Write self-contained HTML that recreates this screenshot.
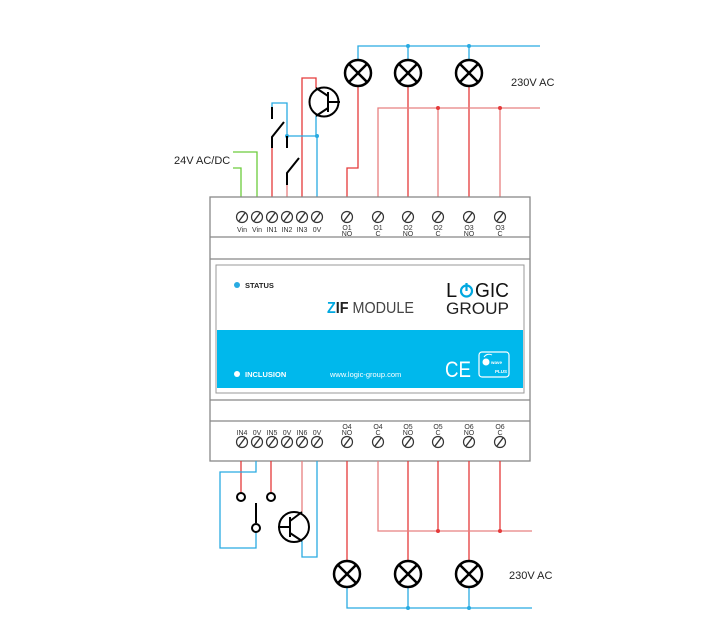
<!DOCTYPE html>
<html><head><meta charset="utf-8"><style>
html,body{margin:0;padding:0;background:#fff;}
svg{display:block;font-family:"Liberation Sans",sans-serif;}
</style></head><body>
<svg width="702" height="625" viewBox="0 0 702 625" xmlns="http://www.w3.org/2000/svg">
<defs>
<g id="lamp"><circle r="13" fill="#fff" stroke="#000" stroke-width="2.5"/><path d="M-9,-9L9,9M9,-9L-9,9" stroke="#000" stroke-width="2.5"/></g>
<g id="term"><circle r="5.5" fill="#fff" stroke="#333" stroke-width="1.2"/><path d="M-3,4L3,-4" stroke="#333" stroke-width="1.4"/></g>
</defs>
<g fill="none" stroke-width="1.3">
<path d="M358,60V46H540" stroke="#29abe2"/>
<path d="M408,46V60M469,46V60" stroke="#29abe2"/>
<path d="M358,86V168H347V197" stroke="#e53a3a"/>
<path d="M408,86V197M469,86V197" stroke="#e53a3a"/>
<path d="M378,197V108H540M438,108V197M500,108V197" stroke="#e88080"/>
<path d="M302,197V78H316V88" stroke="#e53a3a"/>
<path d="M316,116V136H287M317,136V197" stroke="#29abe2"/>
<path d="M287,136V103H272V108" stroke="#29abe2"/>
<path d="M272,148V197" stroke="#e53a3a"/>
<path d="M287,185V197" stroke="#e88080"/>
<path d="M233,152H257V197M233,168H241V197" stroke="#6ccc3c"/>
</g>
<g fill="#29abe2"><circle cx="408" cy="46" r="2"/><circle cx="469" cy="46" r="2"/><circle cx="287" cy="136" r="2"/><circle cx="317" cy="136" r="2"/></g>
<g fill="#e53a3a"><circle cx="438" cy="108" r="2"/><circle cx="500" cy="108" r="2"/></g>
<g stroke="#000" stroke-width="2" fill="none">
<path d="M272,107V119M272,148V137L284,122"/>
<path d="M287,136V148M287,185V173L299,158"/>
</g>
<g stroke="#000" stroke-width="2" fill="none">
<circle cx="324" cy="102" r="14.5" fill="#fff"/>
<path d="M328,92V112M328,102H340M328,96L316,88M328,108L316,116"/>
</g>
<use href="#lamp" x="358" y="73"/><use href="#lamp" x="408" y="73"/><use href="#lamp" x="469" y="73"/>
<text x="511" y="86" font-size="11" fill="#222">230V AC</text>
<text x="174" y="164" font-size="11" fill="#222">24V AC/DC</text>
<rect x="210" y="197" width="320" height="264" fill="#fff" stroke="#888" stroke-width="1.3"/>
<path d="M210,237H530M210,259H530M210,400H530M210,421H530" stroke="#888" stroke-width="1.2"/>
<rect x="216" y="265" width="308" height="128" fill="#fff" stroke="#999" stroke-width="1"/>
<rect x="217" y="330" width="306" height="58" fill="#00b8ec"/>
<circle cx="237" cy="285" r="3" fill="#29abe2"/>
<text x="245" y="288" font-size="7.5" font-weight="bold" fill="#222">STATUS</text>
<circle cx="237" cy="374" r="3" fill="#fff"/>
<text x="245" y="377" font-size="7.5" font-weight="bold" fill="#fff">INCLUSION</text>
<text x="330" y="377" font-size="7.5" fill="#fff">www.logic-group.com</text>
<text x="327" y="313" font-size="16" fill="#444" textLength="87" lengthAdjust="spacingAndGlyphs"><tspan fill="#00a8e0" font-weight="bold">Z</tspan><tspan font-weight="bold" fill="#222">IF</tspan> MODULE</text>
<text x="446" y="297" font-size="20" fill="#111">L</text>
<circle cx="466.5" cy="291" r="5.5" fill="none" stroke="#00a8e0" stroke-width="2.2"/>
<path d="M466.5,283V291" stroke="#00a8e0" stroke-width="2.2"/>
<text x="475" y="297" font-size="20" fill="#111" textLength="34" lengthAdjust="spacingAndGlyphs">GIC</text>
<text x="446" y="314" font-size="17" fill="#222" textLength="63" lengthAdjust="spacingAndGlyphs">GROUP</text>
<text x="445" y="377" font-size="22" fill="#fff" textLength="26" lengthAdjust="spacingAndGlyphs">CE</text>
<rect x="479" y="352" width="30" height="25" rx="3" fill="none" stroke="#fff" stroke-width="1.2"/>
<circle cx="486" cy="362" r="3.5" fill="#fff"/>
<path d="M484,357a6,6 0 0 1 8,-2" stroke="#fff" fill="none" stroke-width="1"/>
<text x="491" y="364" font-size="4.5" fill="#fff" font-weight="bold">wave</text>
<text x="495" y="373" font-size="4.5" fill="#fff" font-weight="bold">PLUS</text>
<g>
<use href="#term" x="242" y="217"/><use href="#term" x="257" y="217"/><use href="#term" x="272" y="217"/><use href="#term" x="287" y="217"/><use href="#term" x="302" y="217"/><use href="#term" x="317" y="217"/>
<use href="#term" x="347" y="217"/><use href="#term" x="378" y="217"/><use href="#term" x="408" y="217"/><use href="#term" x="438" y="217"/><use href="#term" x="469" y="217"/><use href="#term" x="500" y="217"/>
</g>
<g font-size="7" fill="#333" text-anchor="middle">
<text x="242" y="232">Vin</text><text x="257" y="232">Vin</text><text x="272" y="232">IN1</text><text x="287" y="232">IN2</text><text x="302" y="232">IN3</text><text x="317" y="232">0V</text>
<text x="347" y="230">O1</text><text x="347" y="236">NO</text>
<text x="378" y="230">O1</text><text x="378" y="236">C</text>
<text x="408" y="230">O2</text><text x="408" y="236">NO</text>
<text x="438" y="230">O2</text><text x="438" y="236">C</text>
<text x="469" y="230">O3</text><text x="469" y="236">NO</text>
<text x="500" y="230">O3</text><text x="500" y="236">C</text>
<text x="242" y="435">IN4</text><text x="257" y="435">0V</text><text x="272" y="435">IN5</text><text x="287" y="435">0V</text><text x="302" y="435">IN6</text><text x="317" y="435">0V</text>
<text x="347" y="429">O4</text><text x="347" y="435">NO</text>
<text x="378" y="429">O4</text><text x="378" y="435">C</text>
<text x="408" y="429">O5</text><text x="408" y="435">NO</text>
<text x="438" y="429">O5</text><text x="438" y="435">C</text>
<text x="469" y="429">O6</text><text x="469" y="435">NO</text>
<text x="500" y="429">O6</text><text x="500" y="435">C</text>
</g>
<g>
<use href="#term" x="242" y="442"/><use href="#term" x="257" y="442"/><use href="#term" x="272" y="442"/><use href="#term" x="287" y="442"/><use href="#term" x="302" y="442"/><use href="#term" x="317" y="442"/>
<use href="#term" x="347" y="442"/><use href="#term" x="378" y="442"/><use href="#term" x="408" y="442"/><use href="#term" x="438" y="442"/><use href="#term" x="469" y="442"/><use href="#term" x="500" y="442"/>
</g>
<g fill="none" stroke-width="1.3">
<path d="M241,461V493M271,461V493" stroke="#e53a3a"/>
<path d="M256,461V472H220V548H256V532" stroke="#29abe2"/>
<path d="M302,461V512" stroke="#e88080"/>
<path d="M302,541V557H317V461" stroke="#29abe2"/>
<path d="M347,461V561M408,461V561M469,461V561" stroke="#e53a3a"/>
<path d="M378,461V531H532" stroke="#e88080"/>
<path d="M438,461V531M500,461V531" stroke="#e53a3a"/>
<path d="M347,587V608H532M408,587V608M469,587V608" stroke="#29abe2"/>
</g>
<g fill="#e53a3a"><circle cx="438" cy="531" r="2"/><circle cx="500" cy="531" r="2"/></g>
<g fill="#29abe2"><circle cx="408" cy="608" r="2"/><circle cx="469" cy="608" r="2"/></g>
<g stroke="#000" stroke-width="2" fill="#fff">
<circle cx="241" cy="497" r="4"/><circle cx="271" cy="497" r="4"/><circle cx="256" cy="528" r="4"/>
<path d="M256,503V523" fill="none"/>
<circle cx="294" cy="527" r="15"/>
<path d="M290,517V537M278,527H290M290,521L302,512M290,533L302,541" fill="none"/>
</g>
<use href="#lamp" x="347" y="574"/><use href="#lamp" x="408" y="574"/><use href="#lamp" x="469" y="574"/>
<text x="509" y="579" font-size="11" fill="#222">230V AC</text>
</svg>
</body></html>
